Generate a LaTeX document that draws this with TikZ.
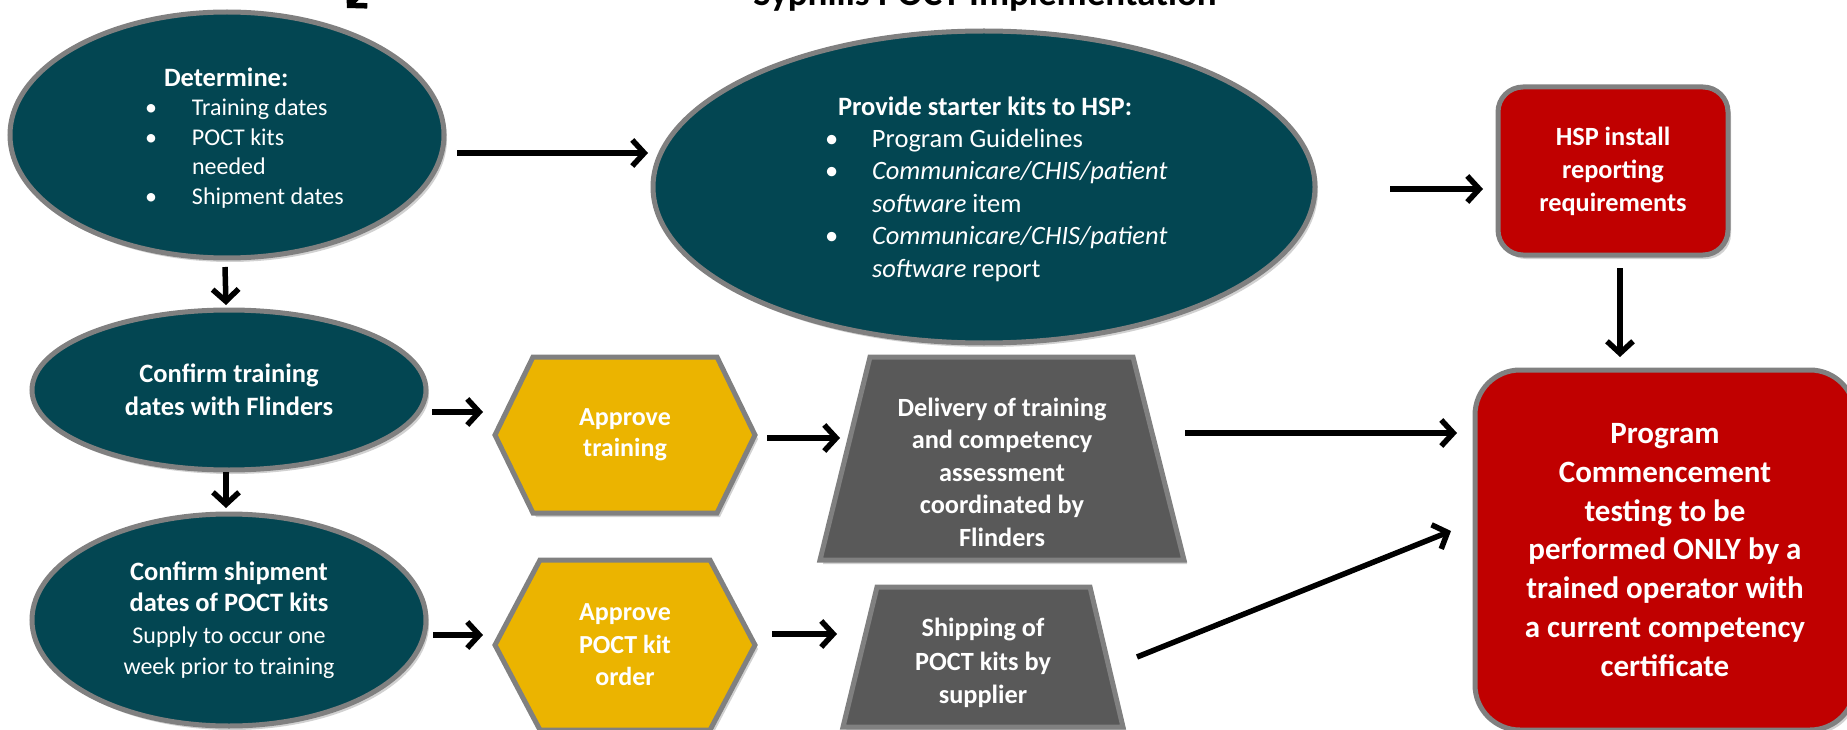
\documentclass[tikz,border=0pt]{standalone}
\usepackage{fontspec}
\setmainfont{Carlito}
\usetikzlibrary{arrows.meta,shadows,shapes.geometric}

\definecolor{ptTeal}{RGB}{3,70,82}
\definecolor{ptBorder}{RGB}{128,128,128}
\definecolor{ptRed}{RGB}{192,0,0}
\definecolor{ptGold}{RGB}{235,180,0}
\definecolor{ptSlate}{RGB}{89,89,89}

\newcommand\setfs[2]{\fontsize{#1pt}{#2pt}\selectfont}
\newcommand\blt{\makebox[47pt][l]{\textbullet}}

\pgfdeclarelayer{bg}
\pgfsetlayers{bg,main}

\begin{document}
\begin{tikzpicture}[x=1pt,y=-1pt,
  softshadow/.style={drop shadow={shadow xshift=3pt,shadow yshift=-4pt,opacity=0.3,fill=black!60}},
  base/.style={draw=ptBorder,line width=5pt,outer sep=0pt,inner sep=0pt,
    text=white,align=center,softshadow},
  oval/.style={base,ellipse,fill=ptTeal},
  redbox/.style={base,rectangle,fill=ptRed},
  frame/.style={rectangle,draw=none,inner sep=0pt,outer sep=0pt,text=white,align=center},
  txt/.style={inner sep=0pt,outer sep=0pt,text=white,align=center},
  listtxt/.style={inner sep=0pt,outer sep=0pt,text=white,align=left},
  hexpath/.style={draw=ptBorder,line width=5pt,fill=ptGold,softshadow},
  trappath/.style={draw=ptBorder,line width=5pt,fill=ptSlate,softshadow},
  arr/.style={line width=5.5pt,draw=black,-{Straight Barb[length=12pt,width=26pt]}}]

\useasboundingbox (0,0) rectangle (1847,730);
\clip (0,0) rectangle (1847,730);

% title, partly above the top edge
\node[anchor=base,inner sep=0pt,font=\setfs{37}{44}\bfseries] (title) at (985,6)
  {Syphilis POCT Implementation};

% planning ovals
\node[oval,minimum width=434pt,minimum height=246pt] (det) at (227,135) {};
\node[listtxt,anchor=west,font=\setfs{24}{29.5}] (detT) at (145,138)
  {\hspace*{19pt}{\setfs{26.5}{29.5}\bfseries Determine:}\\
   \blt Training dates\\
   \blt POCT kits\\
   \hspace*{47pt}needed\\
   \blt Shipment dates};

\node[oval,minimum width=662pt,minimum height=312pt] (kit) at (984,187) {};
\node[listtxt,anchor=west,font=\setfs{26.5}{32.4}] (kitT) at (825,189)
  {\hspace*{13pt}{\bfseries Provide starter kits to HSP:}\\
   \blt Program Guidelines\\
   \blt \textit{Communicare/CHIS/patient}\\
   \hspace*{47pt}\textit{software} item\\
   \blt \textit{Communicare/CHIS/patient}\\
   \hspace*{47pt}\textit{software} report};

\node[oval,minimum width=394pt,minimum height=160pt,font=\setfs{26.5}{33}\bfseries]
  (trn) at (229,390) {Confirm training\\dates with Flinders};

\node[oval,minimum width=394pt,minimum height=212pt,font=\setfs{26.5}{31.5}]
  (shp) at (229,620)
  {{\bfseries Confirm shipment}\\{\bfseries dates of POCT kits}\\
   {\setfs{24}{31}Supply to occur one}\\{\setfs{24}{31}week prior to training}};

% red boxes
\node[redbox,rounded corners=25pt,minimum width=230pt,minimum height=168pt,
  font=\setfs{26.3}{33}\bfseries] (hsp) at (1613,171)
  {HSP install\\reporting\\requirements};

\node[redbox,rounded corners=45pt,minimum width=380pt,minimum height=360pt,
  font=\setfs{31}{38.8}\bfseries] (go) at (1665,550)
  {Program\\Commencement\\testing to be\\performed ONLY by a\\trained operator with\\a current competency\\certificate};

% approval hexagons (outline drawn on the background layer)
\node[frame,minimum width=260pt,minimum height=156pt,font=\setfs{26}{31}\bfseries]
  (apT) at (625,435) {Approve\\training};
\node[frame,minimum width=260pt,minimum height=170pt,font=\setfs{26}{32.5}\bfseries]
  (apK) at (625,645) {Approve\\POCT kit\\order};

% delivery trapezoids
\node[frame,minimum width=364pt,minimum height=203pt] (dlv) at (1002,458.5) {};
\node[txt,font=\setfs{26.3}{32.5}\bfseries] (dlvT) at (1002,472)
  {Delivery of training\\and competency\\assessment\\coordinated by\\Flinders};
\node[frame,minimum width=280pt,minimum height=140pt] (sup) at (983,657) {};
\node[txt,font=\setfs{26.3}{33.5}\bfseries] (supT) at (983,663)
  {Shipping of\\POCT kits by\\supplier};

\begin{pgfonlayer}{bg}
  \path[hexpath] (apT.west) -- ([xshift=38pt]apT.north west) -- ([xshift=-38pt]apT.north east)
    -- (apT.east) -- ([xshift=-38pt]apT.south east) -- ([xshift=38pt]apT.south west) -- cycle;
  \path[hexpath] (apK.west) -- ([xshift=45pt]apK.north west) -- ([xshift=-45pt]apK.north east)
    -- (apK.east) -- ([xshift=-45pt]apK.south east) -- ([xshift=45pt]apK.south west) -- cycle;
  \path[trappath] (dlv.south west) -- ([xshift=50pt]dlv.north west)
    -- ([xshift=-51pt]dlv.north east) -- (dlv.south east) -- cycle;
  \path[trappath] (sup.south west) -- ([xshift=34pt]sup.north west)
    -- ([xshift=-33pt]sup.north east) -- (sup.south east) -- cycle;
\end{pgfonlayer}

% connectors
\coordinate (inTail) at (392,-38);
\coordinate (inTip) at (347,8);
\draw[arr] (inTail) -- (inTip);

\draw[arr] ([xshift=13pt,yshift=-18pt]det.east) -- ([xshift=-5pt,yshift=34pt]kit.west);
\draw[arr] ([xshift=75pt,yshift=-2pt]kit.east) -- ([xshift=-15pt,yshift=-18pt]hsp.west);
\draw[arr] ([xshift=7pt,yshift=-13pt]hsp.south) -- ([xshift=-45pt,yshift=13pt]go.north);
\draw[arr] ([xshift=-2pt,yshift=-9pt]det.south) -- ([xshift=-3pt,yshift=5pt]trn.north);
\draw[arr] ([xshift=-3pt,yshift=-2pt]trn.south) -- ([xshift=-3pt,yshift=6pt]shp.north);
\draw[arr] ([xshift=6pt,yshift=-22pt]trn.east) -- ([xshift=-12pt,yshift=23pt]apT.west);
\draw[arr] ([xshift=7pt,yshift=-15pt]shp.east) -- ([xshift=-12pt,yshift=10pt]apK.west);
\draw[arr] ([xshift=12pt,yshift=-3pt]apT.east) -- ([xshift=20pt,yshift=20.5pt]dlv.west);
\draw[arr] ([xshift=17pt,yshift=11pt]apK.east) -- ([xshift=-6pt,yshift=23pt]sup.west);
\draw[arr] ([xshift=1pt,yshift=25.5pt]dlv.east) -- ([xshift=-18pt,yshift=117pt]go.west);
\draw[arr] ([xshift=14pt]sup.east) -- ([xshift=-24pt,yshift=19pt]go.west);

\end{tikzpicture}
\end{document}
